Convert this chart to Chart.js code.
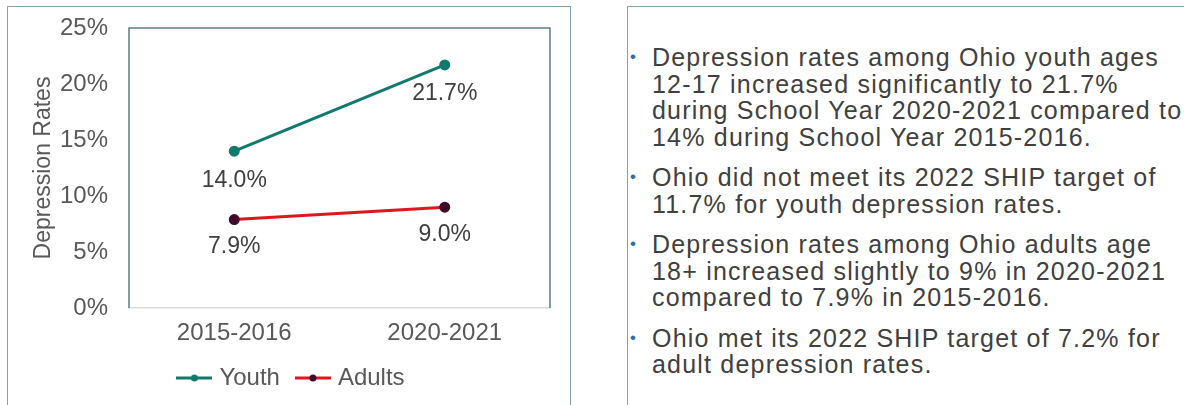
<!DOCTYPE html>
<html>
<head>
<meta charset="utf-8">
<script src="https://cdn.jsdelivr.net/npm/chart.js@4"></script>
<style>
  body { margin:0; width:1184px; height:405px; background:#fff; overflow:hidden; position:relative;
         font-family:"Liberation Sans", Arial, sans-serif; }
  #chartBox { position:absolute; left:7px; top:6px; width:564px; height:400px; border:1.5px solid #7ea5ab; box-sizing:border-box; }
  #chartWrap { position:absolute; left:0; top:0; width:570px; height:405px; }
  #notesBox { position:absolute; left:627px; top:6px; width:620px; height:400px; border:1.5px solid #7ea5ab; box-sizing:border-box; }
  #notes { position:absolute; left:652px; top:44px; margin:0; padding:0; list-style:none;
           font-size:25px; line-height:26.5px; color:#404040; white-space:nowrap; letter-spacing:1.2px; }
  #notes li { position:relative; margin-bottom:14px; }
  #notes li::before { content:"\2022"; position:absolute; left:-22px; top:0; color:#2e6da4; font-size:17px; }
</style>
</head>
<body>
<div id="chartBox"></div>
<div id="chartWrap"><canvas id="depressionChart" width="570" height="405"></canvas></div>
<div id="notesBox"></div>
<ul id="notes"></ul>
<script>
// --- Data ---
const schoolYears = ['2015-2016', '2020-2021'];
const youthRates = [14.0, 21.7];
const adultRates = [7.9, 9.0];

const noteLines = [
    ['Depression rates among Ohio youth ages', '12-17 increased significantly to 21.7%', 'during School Year 2020-2021 compared to', '14% during School Year 2015-2016.'],
    ['Ohio did not meet its 2022 SHIP target of', '11.7% for youth depression rates.'],
    ['Depression rates among Ohio adults age', '18+ increased slightly to 9% in 2020-2021', 'compared to 7.9% in 2015-2016.'],
    ['Ohio met its 2022 SHIP target of 7.2% for', 'adult depression rates.']
];

// --- Notes panel ---
document.getElementById('notes').innerHTML = noteLines.map(l => `<li>${l.join('<br>')}</li>`).join('');

// --- Chart helpers ---
const FONT = '"Liberation Sans", Arial, sans-serif';
const youthColor = '#127a6c';
const adultLine = '#e0161f';
const adultDot = '#3e0c2a';

function legendMarker(lineColor, dotColor) {
    const c = document.createElement('canvas');
    c.width = 36; c.height = 10;
    const g = c.getContext('2d');
    g.strokeStyle = lineColor; g.lineWidth = 3;
    g.beginPath(); g.moveTo(0,5); g.lineTo(36,5); g.stroke();
    g.fillStyle = dotColor;
    g.beginPath(); g.arc(18,5,3.5,0,Math.PI*2); g.fill();
    return c;
}

// value labels under each point
const pointLabels = {
    id:'pointLabels',
    afterDatasetsDraw(chart){
        const ctx = chart.ctx;
        ctx.save();
        ctx.font = '23px ' + FONT;
        ctx.fillStyle = '#404040';
        ctx.textAlign = 'center';
        ctx.textBaseline = 'middle';
        chart.data.datasets.forEach((ds,i)=>{
            chart.getDatasetMeta(i).data.forEach((pt,j)=>{
                ctx.fillText(ds.data[j].toFixed(1)+'%', pt.x, pt.y + ds.labelOffset);
            });
        });
        ctx.restore();
    }
};

// dark frame on left/top/right of plot area
const plotFrame = {
    id:'plotFrame',
    beforeDatasetsDraw(chart){
        const {ctx, chartArea:a} = chart;
        ctx.save();
        ctx.strokeStyle = '#5e7c81';
        ctx.lineWidth = 1.5;
        ctx.beginPath();
        ctx.moveTo(a.left, a.bottom); ctx.lineTo(a.left, a.top);
        ctx.lineTo(a.right, a.top); ctx.lineTo(a.right, a.bottom);
        ctx.stroke();
        ctx.restore();
    }
};

const ctx = document.getElementById('depressionChart').getContext('2d');
new Chart(ctx,{
    type:'line',
    data:{
        labels: schoolYears,
        datasets:[
            {
                label:'Youth',
                data: youthRates,
                borderColor: youthColor,
                backgroundColor: youthColor,
                pointBackgroundColor: youthColor,
                pointBorderColor: youthColor,
                borderWidth:3,
                pointRadius:4,
                labelOffset:29,
                marker: legendMarker(youthColor, youthColor)
            },
            {
                label:'Adults',
                data: adultRates,
                borderColor: adultLine,
                backgroundColor: adultLine,
                pointBackgroundColor: adultDot,
                pointBorderColor: adultDot,
                borderWidth:3,
                pointRadius:4,
                labelOffset:27,
                marker: legendMarker(adultLine, adultDot)
            }
        ]
    },
    options:{
        responsive:false,
        animation:false,
        layout:{ padding:{ top:28, left:36, right:20, bottom:5 } },
        plugins:{
            tooltip:{ enabled:false },
            legend:{
                position:'bottom',
                labels:{
                    usePointStyle:true,
                    pointStyleWidth:26,
                    padding:20,
                    color:'#595959',
                    font:{ size:24, family:FONT },
                    generateLabels(chart){
                        const items = Chart.defaults.plugins.legend.labels.generateLabels(chart);
                        items.forEach(it => it.pointStyle = chart.data.datasets[it.datasetIndex].marker);
                        return items;
                    }
                }
            }
        },
        scales:{
            x:{
                offset:true,
                grid:{ display:false, drawTicks:false },
                border:{ color:'#d9d9d9', width:1.5 },
                ticks:{ color:'#595959', padding:11, font:{ size:24, family:FONT } },
                afterFit(scale){ scale.height = 38; }
            },
            y:{
                min:0, max:25,
                grid:{ display:false, drawTicks:false },
                border:{ display:false },
                ticks:{ stepSize:5, padding:21, color:'#595959', font:{ size:24, family:FONT },
                        callback:v => v + '%' },
                title:{ display:true, text:'Depression Rates', color:'#595959',
                        padding:{ top:-6, bottom:0 }, font:{ size:23, family:FONT } },
                afterFit(scale){
                    scale.width = 93;
                    scale.paddingTop = 0;
                    scale.paddingBottom = 0;
                }
            }
        }
    },
    plugins:[plotFrame, pointLabels]
});
</script>
</body>
</html>
